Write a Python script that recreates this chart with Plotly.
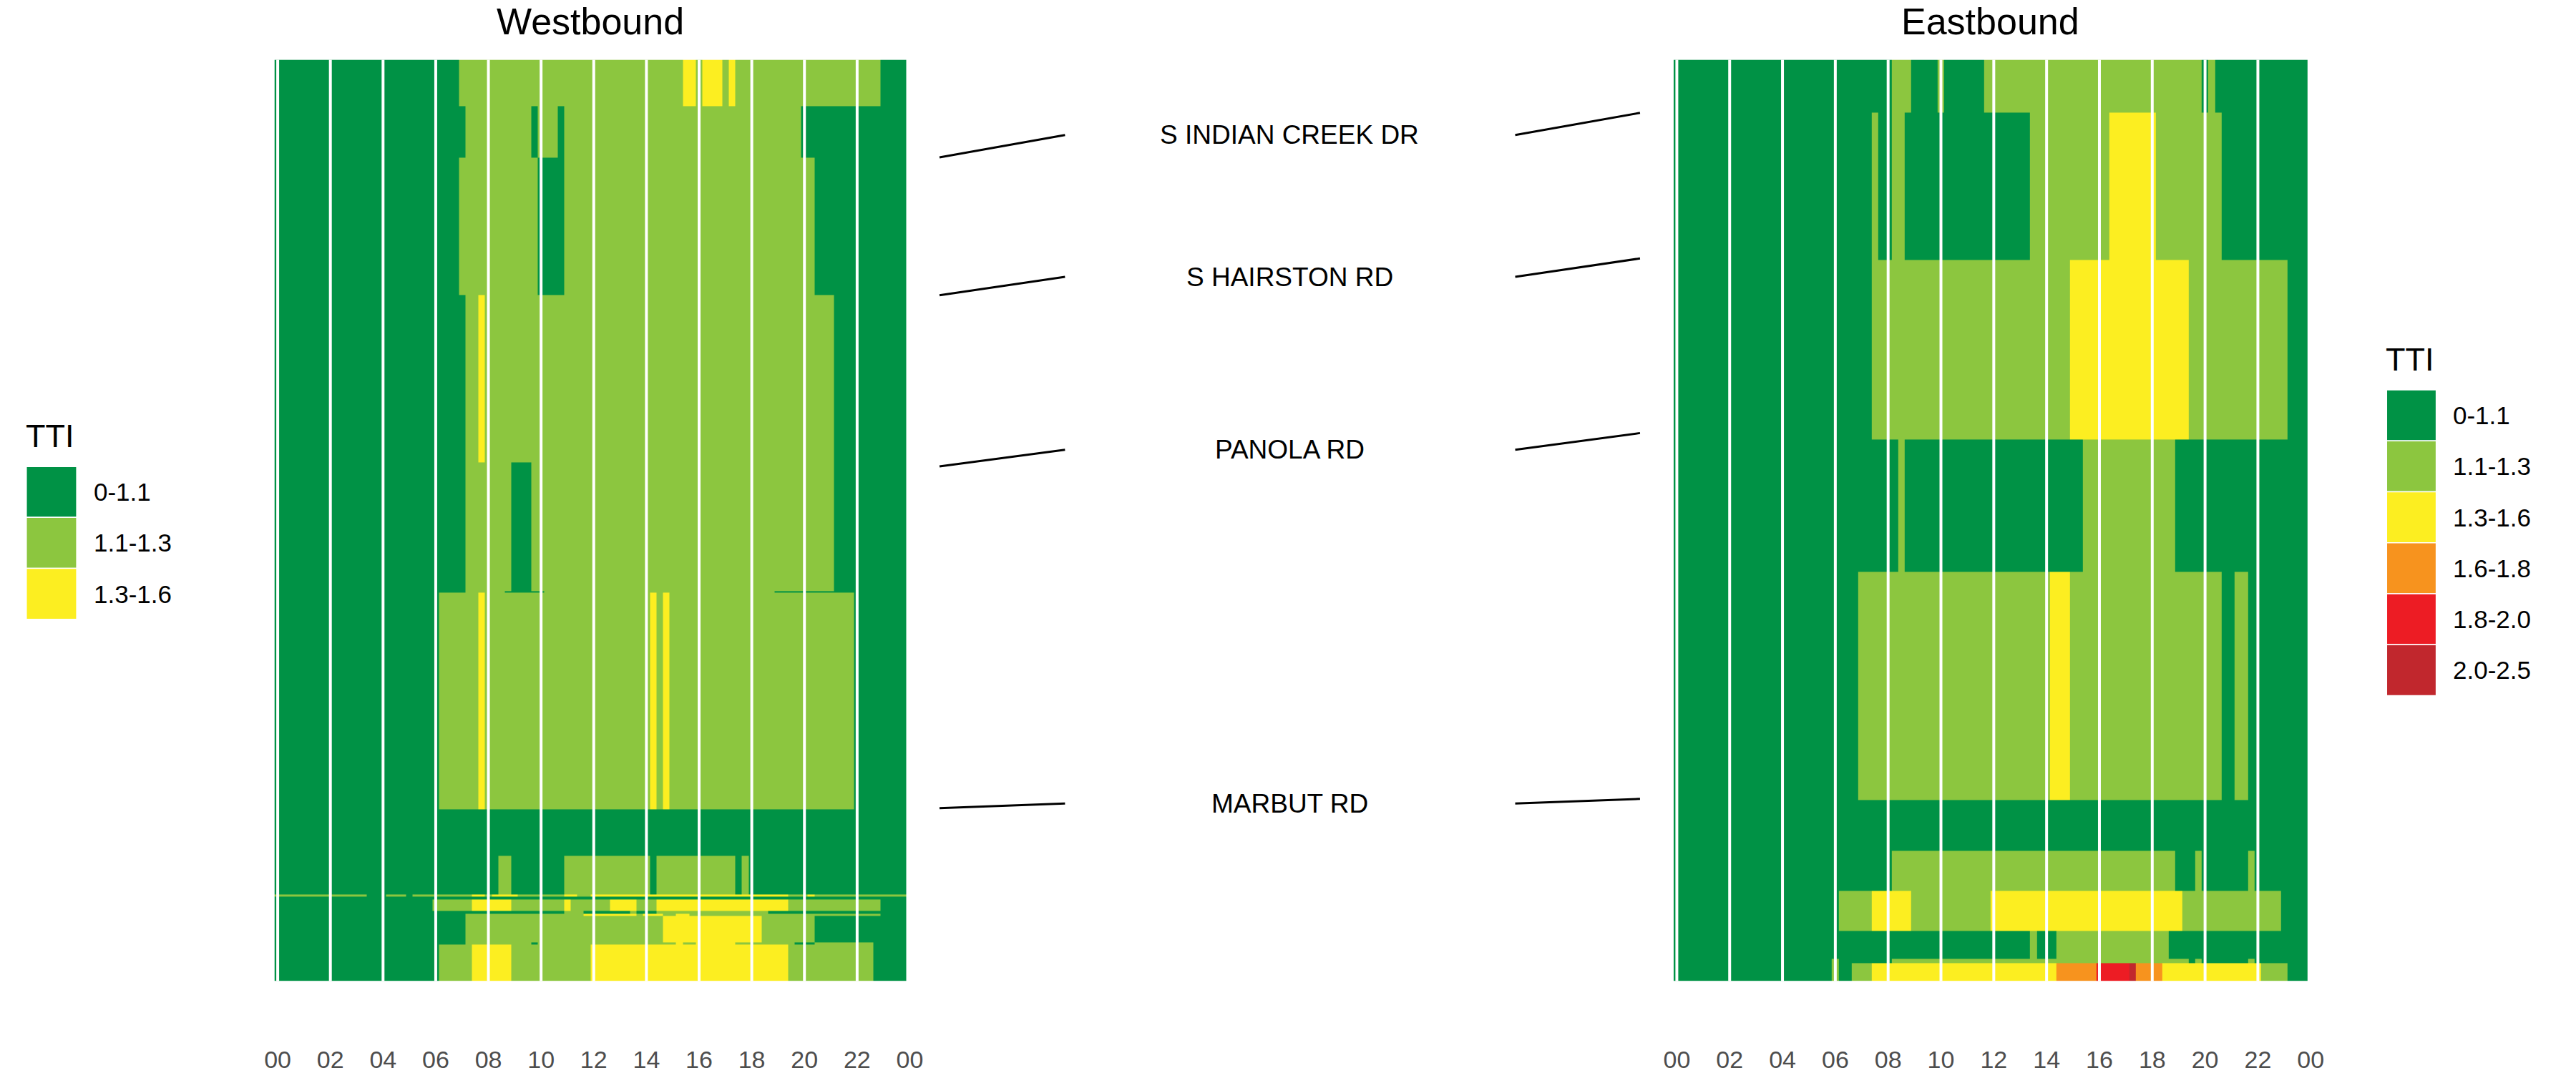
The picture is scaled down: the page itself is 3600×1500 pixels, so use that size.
import plotly.graph_objects as go

W, H = 3600, 1500
FONT = "Liberation Sans, Arial, sans-serif"

# ---------------- categories ----------------
CAT_LABELS = ["0-1.1", "1.1-1.3", "1.3-1.6", "1.6-1.8", "1.8-2.0", "2.0-2.5"]
CAT_COLORS = ["#009245", "#8CC63F", "#FCEE21", "#F7931E", "#ED1C24", "#C1272D"]

# ---------------- time axis ----------------
BIN_HOURS = 0.25
N_BINS = 96
TICK_HOURS = [0, 2, 4, 6, 8, 10, 12, 14, 16, 18, 20, 22, 24]
TICK_TEXT = ["00", "02", "04", "06", "08", "10", "12", "14", "16", "18", "20", "22", "00"]

# ---------------- corridor (distance from top of chart, miles) ----------------
CORRIDOR_MI = 4.0
CROSS_STREETS = ["S INDIAN CREEK DR", "S HAIRSTON RD", "PANOLA RD", "MARBUT RD"]
WB_CROSS_MI = [0.424, 1.023, 1.766, 3.249]
EB_CROSS_MI = [0.231, 0.863, 1.621, 3.209]

# Westbound segment edges (miles) and per-segment TTI category runs
# each run list: [start_hour, category] -> category holds from start_hour on
WB_EDGES_MI = [0, 0.203, 0.425, 1.023, 1.748, 2.306, 2.315, 3.255, 3.456,
               3.625, 3.634, 3.647, 3.696, 3.708, 3.718, 3.831, 3.842, 4.0]
WB_R01 = [[0, 0], [7.0, 1], [15.5, 2], [16.0, 1], [16.25, 2], [17.0, 1], [17.25, 2], [17.5, 1], [23.0, 0]]
WB_R02 = [[0, 0], [7.25, 1], [9.75, 0], [10.0, 1], [10.75, 0], [11.0, 1], [20.0, 0]]
WB_R03 = [[0, 0], [7.0, 1], [10.0, 0], [11.0, 1], [20.5, 0]]
WB_R04 = [[0, 0], [7.25, 1], [7.75, 2], [8.0, 1], [21.25, 0]]
WB_R05 = [[0, 0], [7.25, 1], [9.0, 0], [9.75, 1], [21.25, 0]]
WB_R06 = [[0, 0], [7.25, 1], [8.75, 0], [10.25, 1], [19.0, 0]]
WB_R07 = [[0, 0], [6.25, 1], [7.75, 2], [8.0, 1], [14.25, 2], [14.5, 1], [14.75, 2], [15.0, 1], [22.0, 0]]
WB_R08 = [[0, 0]]
WB_R09 = [[0, 0], [8.5, 1], [9.0, 0], [11.0, 1], [14.25, 0], [14.5, 1], [17.5, 0], [17.75, 1], [18.0, 0]]
WB_R10 = [[0, 1], [3.5, 0], [4.25, 1], [5.0, 0], [5.25, 1], [7.5, 2], [8.0, 1], [8.25, 2], [9.25, 1],
          [11.0, 2], [11.5, 1], [12.0, 2], [19.5, 1], [20.25, 2], [20.5, 1]]
WB_R11 = [[0, 0]]
WB_R12 = [[0, 0], [6.0, 1], [7.5, 2], [9.0, 1], [11.0, 2], [11.25, 1], [12.75, 2], [13.75, 1], [14.5, 2],
          [19.5, 1], [23.0, 0]]
WB_R13 = [[0, 0], [11.0, 1], [11.75, 0], [13.5, 1], [13.75, 0], [14.5, 1], [18.75, 0]]
WB_R14 = [[0, 0], [7.25, 1], [11.75, 2], [13.75, 1], [14.0, 2], [14.75, 1], [15.25, 2], [15.75, 1], [23.0, 0]]
WB_R15 = [[0, 0], [7.25, 1], [14.75, 2], [18.5, 1], [20.5, 0]]
WB_R16 = [[0, 0], [7.25, 1], [9.75, 0], [10.0, 1], [15.25, 2], [15.5, 1], [16.0, 2], [17.5, 1],
          [19.75, 0], [20.5, 1], [22.75, 0]]
WB_R17 = [[0, 0], [6.25, 1], [7.5, 2], [9.0, 1], [12.0, 2], [19.5, 1], [22.75, 0]]
WB_ROWS = [WB_R01, WB_R02, WB_R03, WB_R04, WB_R05, WB_R06, WB_R07, WB_R08, WB_R09,
           WB_R10, WB_R11, WB_R12, WB_R13, WB_R14, WB_R15, WB_R16, WB_R17]

# Eastbound segment edges (miles) and runs
EB_EDGES_MI = [0, 0.229, 0.869, 1.648, 2.223, 3.214, 3.434, 3.607, 3.782, 3.903, 3.921, 4.0]
EB_R01 = [[0, 0], [8.25, 1], [9.0, 0], [10.0, 1], [10.25, 0], [11.75, 1], [20.0, 0], [20.25, 1], [20.5, 0]]
EB_R02 = [[0, 0], [7.5, 1], [7.75, 0], [8.25, 1], [8.75, 0], [13.5, 1], [16.5, 2], [18.25, 1], [20.75, 0]]
EB_R03 = [[0, 0], [7.5, 1], [15.0, 2], [19.5, 1], [23.25, 0]]
EB_R04 = [[0, 0], [8.5, 1], [8.75, 0], [15.5, 1], [19.0, 0]]
EB_R05 = [[0, 0], [7.0, 1], [14.25, 2], [15.0, 1], [20.75, 0], [21.25, 1], [21.75, 0]]
EB_R06 = [[0, 0]]
EB_R07 = [[0, 0], [8.25, 1], [19.0, 0], [19.75, 1], [20.0, 0], [21.75, 1], [22.0, 0]]
EB_R08 = [[0, 0], [6.25, 1], [7.5, 2], [9.0, 1], [12.0, 2], [19.25, 1], [23.0, 0]]
EB_R09 = [[0, 0], [13.5, 1], [13.75, 0], [14.5, 1], [18.75, 0]]
EB_R10 = [[0, 0], [6.0, 1], [6.25, 0], [8.25, 1], [19.5, 0], [19.75, 1], [20.0, 0], [21.75, 1], [22.0, 0]]
EB_R11 = [[0, 0], [6.0, 1], [6.25, 0], [6.75, 1], [7.5, 2], [14.5, 3], [16.0, 4], [17.25, 5], [17.5, 3],
          [18.5, 2], [22.25, 1], [23.25, 0]]
EB_ROWS = [EB_R01, EB_R02, EB_R03, EB_R04, EB_R05, EB_R06, EB_R07, EB_R08, EB_R09, EB_R10, EB_R11]


def expand(runs):
    row = []
    for i in range(N_BINS):
        t = i * BIN_HOURS
        cat = runs[0][1]
        for start, c in runs:
            if t >= start - 1e-9:
                cat = c
        row.append(cat)
    return row


x_edges = [-BIN_HOURS / 2 + BIN_HOURS * i for i in range(N_BINS + 1)]

n = len(CAT_COLORS)
colorscale = []
for i, c in enumerate(CAT_COLORS):
    colorscale.append([i / n, c])
    colorscale.append([(i + 1) / n, c])


def px_x(p):
    return p / W


def px_y(p):
    return 1 - p / H


fig = go.Figure()
for rows, edges, xa, ya in [(WB_ROWS, WB_EDGES_MI, "x", "y"), (EB_ROWS, EB_EDGES_MI, "x2", "y2")]:
    fig.add_trace(go.Heatmap(
        z=[expand(r) for r in rows], x=x_edges, y=edges,
        zmin=-0.5, zmax=n - 0.5, colorscale=colorscale, showscale=False,
        xaxis=xa, yaxis=ya, hoverinfo="skip",
    ))

Y_DOM = [px_y(1381.6), px_y(84)]
WB_DOM = [px_x(372.9), px_x(1269.1)]
EB_DOM = [px_x(2346.3), px_x(3245.0)]
X_RANGE = [-BIN_HOURS / 2, 24]

xcommon = dict(range=X_RANGE, tickvals=TICK_HOURS, ticktext=TICK_TEXT, ticks="outside",
               ticklen=80, tickcolor="rgba(0,0,0,0)", showgrid=False, zeroline=False,
               showline=False, tickfont=dict(family=FONT, size=34, color="#4D4D4D"), fixedrange=True)
ycommon = dict(range=[CORRIDOR_MI, 0], domain=Y_DOM, showticklabels=False, showgrid=False,
               zeroline=False, showline=False, ticks="", fixedrange=True)

shapes = []
# white vertical grid lines on top of tiles
for xr, yr in [("x", "y"), ("x2", "y2")]:
    for h in TICK_HOURS[:-1]:
        shapes.append(dict(type="line", xref=xr, yref="paper", x0=h, x1=h, y0=Y_DOM[0], y1=Y_DOM[1],
                           line=dict(color="white", width=4), layer="above"))

annotations = []
# connector lines and street labels
L_X0, L_X1, R_X0, R_X1 = px_x(1311), px_x(1488), px_x(2123), px_x(2299)
for name, wb, eb in zip(CROSS_STREETS, WB_CROSS_MI, EB_CROSS_MI):
    mid = (wb + eb) / 2
    shapes.append(dict(type="line", xref="paper", yref="y", x0=L_X0, x1=L_X1, y0=wb, y1=mid,
                       line=dict(color="black", width=3)))
    shapes.append(dict(type="line", xref="paper", yref="y", x0=R_X0, x1=R_X1, y0=mid, y1=eb,
                       line=dict(color="black", width=3)))
    annotations.append(dict(text=name, xref="paper", yref="y", x=px_x(1805), y=mid, showarrow=False,
                            xanchor="center", yanchor="middle",
                            font=dict(family=FONT, size=37, color="black")))

# panel titles
for title, cx in [("Westbound", 818.5), ("Eastbound", 2793.4)]:
    annotations.append(dict(text=title, xref="paper", yref="paper", x=px_x(cx), y=1.0,
                            showarrow=False, xanchor="center", yanchor="top", borderpad=0,
                            font=dict(family=FONT, size=52, color="black")))


# legends
def add_legend(n_items, left, title_cy, box_top, box_h, box_w, label_x):
    annotations.append(dict(text="TTI", xref="paper", yref="paper", x=px_x(left - 3), y=px_y(title_cy),
                            showarrow=False, xanchor="left", yanchor="middle",
                            font=dict(family=FONT, size=45, color="black")))
    for i in range(n_items):
        t = box_top + i * box_h
        shapes.append(dict(type="rect", xref="paper", yref="paper", x0=px_x(left), x1=px_x(left + box_w),
                           y0=px_y(t + box_h), y1=px_y(t), fillcolor=CAT_COLORS[i],
                           line=dict(color="white", width=1.5)))
        annotations.append(dict(text=CAT_LABELS[i], xref="paper", yref="paper", x=px_x(label_x),
                                y=px_y(t + box_h / 2), showarrow=False, xanchor="left", yanchor="middle",
                                font=dict(family=FONT, size=35, color="black")))


add_legend(3, 23, 614, 657, 71.7, 71, 116)
add_legend(6, 3352, 506, 549, 71.8, 70, 3444)

fig.update_layout(
    width=W, height=H, margin=dict(l=0, r=0, t=0, b=0),
    paper_bgcolor="white", plot_bgcolor="white", showlegend=False,
    xaxis=dict(domain=WB_DOM, anchor="y", **xcommon),
    yaxis=dict(anchor="x", **ycommon),
    xaxis2=dict(domain=EB_DOM, anchor="y2", **xcommon),
    yaxis2=dict(anchor="x2", **ycommon),
    shapes=shapes, annotations=annotations,
)

fig.write_html("out.html",
               post_script="document.body.style.margin='0';document.body.style.overflow='hidden';")
